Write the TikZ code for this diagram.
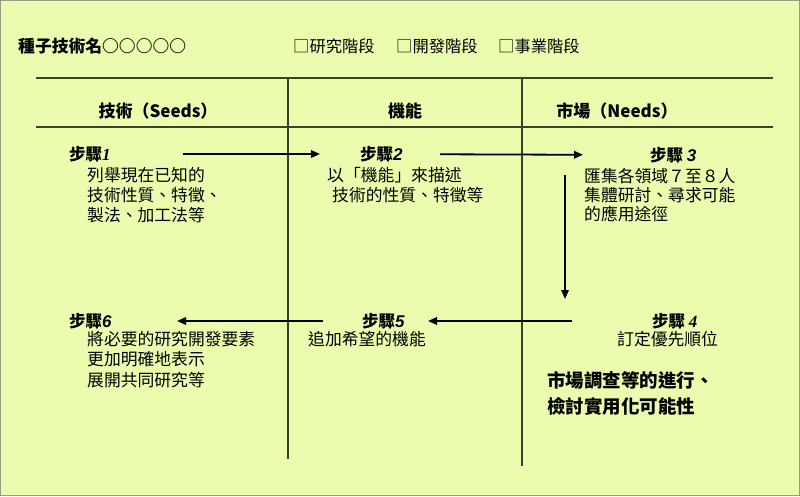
\documentclass[tikz,border=0pt]{standalone}
\usepackage{fontspec}
\setmainfont{Noto Sans CJK TC}
\newfontfamily\lsans{Liberation Sans}
\newfontfamily\lserif{Liberation Serif}
\usetikzlibrary{arrows.meta}
\definecolor{bgc}{RGB}{234,253,175}
\definecolor{framec}{RGB}{58,66,44}
\definecolor{borderc}{RGB}{150,155,140}
\begin{document}
\begin{tikzpicture}[x=1pt,y=-1pt,
  txt/.style={anchor=west,inner sep=0pt,font=\fontsize{16.8}{20}\selectfont},
  hdr/.style={anchor=center,inner sep=0pt,font=\fontsize{17}{20}\selectfont\bfseries},
  big/.style={anchor=west,inner sep=0pt,font=\fontsize{18.5}{22}\selectfont\bfseries},
  ttl/.style={anchor=west,inner sep=0pt,font=\fontsize{16.3}{18}\selectfont},
  steptitle/.style={anchor=west,inner sep=0pt,font=\fontsize{16.5}{20}\selectfont\bfseries},
  rule/.style={draw=framec,line width=2.2pt},
  arr/.style={draw=black,line width=1.8pt,-{Triangle[length=9pt,width=7.5pt]}}]
\useasboundingbox (0,0) rectangle (800,496);
\fill[bgc] (0,0) rectangle (800,496);
\draw[borderc,line width=1pt] (0.5,0.5) rectangle (799.5,495.5);

% top line texts
\node[ttl,font=\fontsize{16.8}{18}\selectfont\bfseries] (title) at (18,46) {種子技術名○○○○○};
\node[ttl] (ck1) at (293,46) {□研究階段};
\node[ttl] (ck2) at (396,46) {□開發階段};
\node[ttl] (ck3) at (498,46) {□事業階段};

% table frame
\coordinate (h1l) at (36,78);  \coordinate (h1r) at (773,78);
\coordinate (h2l) at (36,127); \coordinate (h2r) at (773,127);
\coordinate (v1t) at (288,78); \coordinate (v1b) at (288,459);
\coordinate (v2t) at (522,78); \coordinate (v2b) at (522,466);
\draw[rule] (h1l) -- (h1r);
\draw[rule] (h2l) -- (h2r);
\draw[rule] (v1t) -- (v1b);
\draw[rule] (v2t) -- (v2b);

% headers
\node[hdr] (hd1) at (158,111) {技術（Seeds）};
\node[hdr] (hd2) at (405,111) {機能};
\node[hdr] (hd3) at (617,111) {市場（Needs）};

% step titles
\node[steptitle] (s1) at (69,154) {步驟{\fontsize{17}{20}\lserif\bfseries\itshape 1}};
\node[steptitle] (s2) at (360,154) {步驟{\fontsize{17}{20}\lsans\bfseries\itshape 2}};
\node[steptitle] (s3) at (650,155) {步驟 {\fontsize{17}{20}\lsans\bfseries\itshape 3}};
\node[steptitle] (s4) at (652,321) {步驟 {\fontsize{17}{20}\lserif\bfseries\itshape 4}};
\node[steptitle] (s5) at (362,321) {步驟{\fontsize{17}{20}\lsans\bfseries\itshape 5}};
\node[steptitle] (s6) at (69,321) {步驟{\fontsize{17}{20}\lsans\bfseries\itshape 6}};

% bodies
\node[txt] (b1a) at (87,175) {列舉現在已知的};
\node[txt] (b1b) at (87,195) {技術性質、特徵、};
\node[txt] (b1c) at (87,215) {製法、加工法等};
\node[txt] (b2a) at (327,175) {以「機能」來描述};
\node[txt] (b2b) at (332,195) {技術的性質、特徵等};
\node[txt] (b3a) at (584,176) {匯集各領域７至８人};
\node[txt] (b3b) at (584,195) {集體研討、尋求可能};
\node[txt] (b3c) at (584,214) {的應用途徑};
\node[txt] (b4) at (617,339) {訂定優先順位};
\node[txt] (b5) at (308,339) {追加希望的機能};
\node[txt] (b6a) at (87,339) {將必要的研究開發要素};
\node[txt] (b6b) at (87,359) {更加明確地表示};
\node[txt] (b6c) at (87,380) {展開共同研究等};
\node[big] (m1) at (547,380) {市場調查等的進行、};
\node[big] (m2) at (547,406) {檢討實用化可能性};

% arrows
\draw[arr,shorten <=114pt,shorten >=40pt] (s1.west) -- (s2.west);
\draw[arr,shorten <=80pt,shorten >=67pt] (s2.west) -- (s3.west);
\coordinate (c3) at (565,175);
\coordinate (c4) at (565,299);
\draw[arr] (c3) -- (c4);
\draw[arr,shorten <=80pt,shorten >=66pt] (s4.west) -- (s5.west);
\draw[arr,shorten <=39pt,shorten >=108pt] (s5.west) -- (s6.west);
\end{tikzpicture}
\end{document}
